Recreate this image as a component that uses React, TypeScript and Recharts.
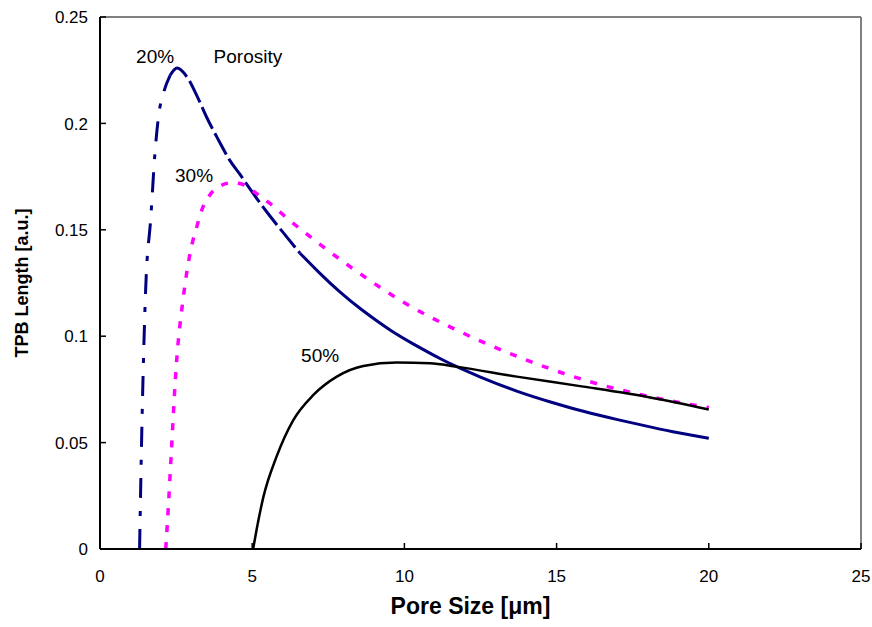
import React from 'react';
import { LineChart, Line, XAxis, YAxis, ReferenceLine, ReferenceDot, Label } from 'recharts';

// Pore size [µm] and TPB length [a.u.]
const poreSize20 = [1.30, 1.38, 1.50, 1.67, 1.80, 1.92, 2.10, 2.30, 2.53, 2.85, 3.20, 3.50, 3.90, 4.27, 4.60, 4.84, 5.50, 6.00, 6.57, 7.20, 7.88, 8.60, 9.53, 10.3, 11.17, 11.7, 12.5, 13.69, 14.8, 15.88, 17.0, 18.07, 19.0, 20.0];
const tpb20 = [0, 0.060, 0.122, 0.156, 0.185, 0.203, 0.215, 0.2225, 0.226, 0.222, 0.2125, 0.203, 0.192, 0.1825, 0.176, 0.171, 0.158, 0.149, 0.139, 0.1299, 0.1208, 0.1124, 0.1029, 0.0963, 0.0895, 0.0858, 0.0808, 0.0742, 0.0691, 0.0647, 0.0608, 0.0574, 0.0546, 0.052];

const poreSize30 = [2.16, 2.25, 2.33, 2.50, 2.74, 2.96, 3.18, 3.39, 3.61, 4.00, 4.33, 4.65, 5.15, 5.58, 6.35, 7.06, 8.60, 10.07, 11.60, 13.58, 16.10, 18.07, 19.65, 20.0];
const tpb30 = [0, 0.021, 0.042, 0.085, 0.1186, 0.139, 0.1515, 0.161, 0.1664, 0.171, 0.1721, 0.1715, 0.167, 0.1624, 0.153, 0.145, 0.1288, 0.1151, 0.1037, 0.0912, 0.0786, 0.0716, 0.0673, 0.0665];

const poreSize50 = [5.03, 5.15, 5.37, 5.80, 6.35, 7.01, 7.78, 8.65, 9.75, 10.84, 11.70, 13.69, 15.88, 18.07, 20.0];
const tpb50 = [0, 0.0095, 0.0246, 0.0434, 0.0606, 0.0724, 0.081, 0.086, 0.0876, 0.0873, 0.0857, 0.081, 0.0763, 0.0712, 0.0656];

// line-style breakpoints of the 20% curve (dash-dot / long dash / solid)
const split20a = 2.30;
const split20b = 6.57;

const xTicks = [0, 5, 10, 15, 20, 25];
const yTicks = [0, 0.05, 0.1, 0.15, 0.2, 0.25];

const annotTexts = ['20%', 'Porosity', '30%', '50%'];
const annotX = [1.81, 4.86, 3.09, 7.23];
const annotY = [0.2317, 0.2317, 0.1757, 0.0912];

const zip = (xs: number[], ys: number[]) => xs.map((x, i) => ({ x, y: ys[i] }));

const data20 = zip(poreSize20, tpb20);
const seg20a = data20.filter(d => d.x <= split20a);
const seg20b = data20.filter(d => d.x >= split20a && d.x <= split20b);
const seg20c = data20.filter(d => d.x >= split20b);
const data30 = zip(poreSize30, tpb30);
const data50 = zip(poreSize50, tpb50);

const FONT = '"Liberation Sans", Arial, Helvetica, sans-serif';

const YTick = (props: any) => {
  const { x, y, payload } = props;
  return (
    <g>
      <line x1={x + 12} x2={x + 18} y1={y} y2={y} stroke="#000" strokeWidth={1.5} />
      <text x={x} y={y} dy="0.36em" textAnchor="end" fontSize={17} fill="#000" fontFamily={FONT}>
        {String(payload.value)}
      </text>
    </g>
  );
};

const XTick = (props: any) => {
  const { x, y, payload } = props;
  return (
    <g>
      <line x1={x} x2={x} y1={y - 21} y2={y - 27} stroke="#000" strokeWidth={1.5} />
      <text x={x} y={y} dy="0.72em" textAnchor="middle" fontSize={17} fill="#000" fontFamily={FONT}>
        {String(payload.value)}
      </text>
    </g>
  );
};

export default function App() {
  return (
    <div style={{ width: 864, height: 611, fontFamily: FONT, background: '#fff' }}>
      <style>{`html, body { overflow: hidden; } body { margin: 8px 0 8px 8px; } .recharts-wrapper, .recharts-surface { overflow: visible !important; }`}</style>
      <LineChart width={864} height={611} margin={{ top: 9, right: 11, left: 0, bottom: 0 }}>
        <XAxis
          type="number"
          dataKey="x"
          domain={[0, 25]}
          ticks={xTicks}
          interval={0}
          tickSize={0}
          tickMargin={21}
          tick={<XTick />}
          height={70}
          axisLine={{ stroke: '#000', strokeWidth: 2 }}
          tickLine={false}
        >
          <Label
            value="Pore Size [μm]"
            position="insideBottom"
            offset={5}
            dx={-10}
            style={{ fontSize: 23, fontWeight: 'bold', fill: '#000', fontFamily: FONT }}
          />
        </XAxis>
        <YAxis
          type="number"
          domain={[0, 0.25]}
          ticks={yTicks}
          interval={0}
          tickSize={0}
          tickMargin={12}
          tick={<YTick />}
          width={92}
          axisLine={{ stroke: '#000', strokeWidth: 2 }}
          tickLine={false}
        >
          <Label
            value="TPB Length [a.u.]"
            angle={-90}
            position="insideLeft"
            offset={14}
            style={{ fontSize: 18, fontWeight: 'bold', fill: '#000', fontFamily: FONT, textAnchor: 'middle' }}
          />
        </YAxis>
        <ReferenceLine y={0.25} stroke="#808080" strokeWidth={2} />
        <ReferenceLine x={25} stroke="#808080" strokeWidth={2} />

        <Line data={seg20a} dataKey="y" type="monotone" stroke="#000080" strokeWidth={3} strokeDasharray="20 13 5 13" dot={false} isAnimationActive={false} />
        <Line data={seg20b} dataKey="y" type="monotone" stroke="#000080" strokeWidth={3} strokeDasharray="24 5" dot={false} isAnimationActive={false} />
        <Line data={seg20c} dataKey="y" type="natural" stroke="#000080" strokeWidth={3} dot={false} isAnimationActive={false} />
        <Line data={data30} dataKey="y" type="monotone" stroke="#FF00FF" strokeWidth={3.5} strokeDasharray="7 10" dot={false} isAnimationActive={false} />
        <Line data={data50} dataKey="y" type="monotone" stroke="#000" strokeWidth={2.5} dot={false} isAnimationActive={false} />

        {annotTexts.map((t, i) => (
          <ReferenceDot
            key={t}
            x={annotX[i]}
            y={annotY[i]}
            r={0}
            fill="none"
            stroke="none"
            label={{ value: t, position: 'center', fontSize: 19, fill: '#000', fontFamily: FONT }}
          />
        ))}
      </LineChart>
    </div>
  );
}
